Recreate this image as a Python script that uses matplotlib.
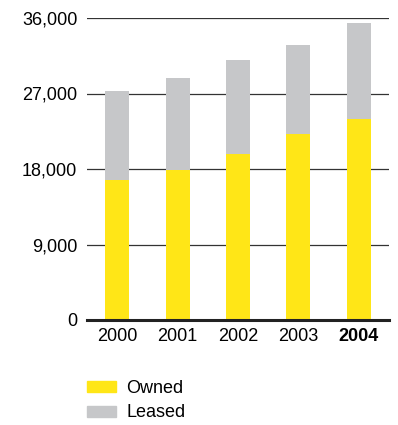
import matplotlib.pyplot as plt
from matplotlib.patches import Patch

years = ['2000', '2001', '2002', '2003', '2004']
owned = [16700, 17900, 19800, 22200, 24000]
leased = [10600, 10950, 11200, 10600, 11400]
yticks = [0, 9000, 18000, 27000, 36000]

yellow = '#FFE617'
grey = '#C6C7C9'

plt.rcParams['font.family'] = ['Liberation Sans', 'DejaVu Sans']

fig = plt.figure(figsize=(3.98, 4.25), dpi=100)
ax = fig.add_axes([87/398, 1 - 320/425, 302/398, 302/425])

x = range(len(years))
ax.bar(x, owned, width=0.4, color=yellow, zorder=3)
ax.bar(x, leased, width=0.4, bottom=owned, color=grey, zorder=3)

ax.set_xlim(-0.5, 4.5)
ax.set_ylim(0, 36000)
ax.set_yticks(yticks)
ax.set_yticklabels(['{:,}'.format(v) for v in yticks], fontsize=13)
ax.set_xticks(list(x))
ax.set_xticklabels(years, fontsize=13)
ax.get_xticklabels()[-1].set_fontweight('bold')
ax.tick_params(length=0, pad=6)
ax.tick_params(axis='y', pad=7)
for v in yticks[1:]:
    ax.axhline(v, color='#333333', lw=0.9, zorder=1)
for s in ['top', 'right', 'left']:
    ax.spines[s].set_visible(False)
ax.spines['bottom'].set_linewidth(2.2)
ax.spines['bottom'].set_color('#222222')
ax.spines['bottom'].set_zorder(4)

handles = [Patch(color=yellow, label='Owned'), Patch(color=grey, label='Leased')]
fig.legend(handles=handles, loc='upper left', bbox_to_anchor=(71/398, 1 - 364/425),
           frameon=False, fontsize=13, handlelength=1.6, handleheight=0.55,
           labelspacing=0.4, handletextpad=0.55)

fig.savefig('out.png', dpi=100)
